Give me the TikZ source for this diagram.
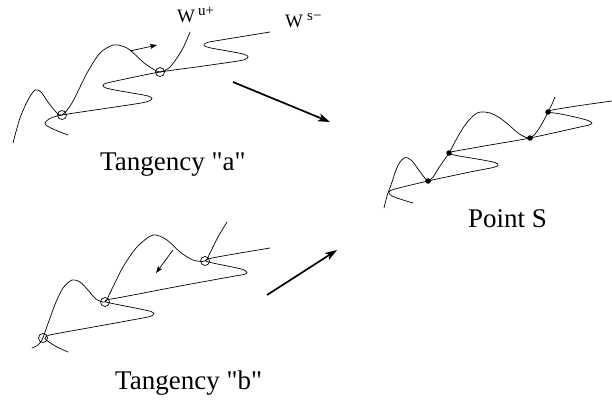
\documentclass[tikz,border=0pt]{standalone}
\usepackage{fontspec}
\setmainfont{Liberation Serif}[Ligatures=TeXOff]
\usetikzlibrary{arrows.meta}
\tikzset{
  curve/.style={line width=0.7bp, line join=round, line cap=round},
  tangcirc/.style={draw, circle, line width=0.7bp, minimum size=9bp, inner sep=0pt},
  pointdot/.style={fill, circle, minimum size=5.5bp, inner sep=0pt},
  bigarrow/.style={line width=1.7bp, -{Stealth[length=12bp,width=8bp,inset=3bp]}},
  smallarrow/.style={line width=0.7bp, -{Stealth[length=7bp,width=5bp,inset=1.5bp]}},
  biglabel/.style={anchor=base west, inner sep=0pt, font=\fontsize{27bp}{30bp}\selectfont},
  wlabel/.style={anchor=base west, inner sep=0pt, font=\fontsize{19bp}{21bp}\selectfont},
  wsup/.style={anchor=base west, inner sep=0pt, font=\fontsize{15bp}{17bp}\selectfont}
}
\begin{document}
\begin{tikzpicture}[x=1bp,y=-1bp]
\useasboundingbox (0,0) rectangle (612,400);

% ---------- Tangency "a" ----------
\draw[curve] plot[smooth,tension=0.5] coordinates {
 (13,143) (20,118) (28,100) (35,90) (41,92) (48,102) (56,112) (62,115)
 (72,103) (87,73) (100,53) (113,45) (122,46) (130,50) (143,62) (153,69)
 (160,72) (170,67) (182,50) (190,32)};
\draw[curve] plot[smooth,tension=0.5] coordinates {
 (68,135) (53,129) (45,124) (49,119) (62,115) (105,108.5) (140,103.2)
 (149,101) (152,98.5) (148,96) (135,93.5) (115,90) (106,88) (103,85.5)
 (107,83) (130,78) (160,72) (200,66.5) (238,61) (246,59) (248,56.5)
 (243,54) (225,50.5) (210,47.8) (204,45.5) (206,43) (215,41) (270,32)};
\node[tangcirc] (a1) at (62,115) {};
\node[tangcirc] (a2) at (160,72) {};
\coordinate (sa1) at (130,51); \coordinate (sa2) at (157,45);
\draw[smallarrow] (sa1) -- (sa2);
\node[wlabel] (wu) at (177,22) {W};
\node[wsup] (wus) at (198,15) {u+};
\node[wlabel] (ws) at (285,27) {W};
\node[wsup] (wss) at (307,20) {s−};
\node[biglabel] (ta) at (100,170) {Tangency "a"};

% ---------- Tangency "b" ----------
\draw[curve] plot[smooth,tension=0.5] coordinates {
 (32,348) (38,345) (42,340) (45,332) (50,318) (56,302) (63,288) (72,280)
 (80,282) (88,290) (96,299) (105,302) (110,293) (123,267) (137,247)
 (153,235) (167,240) (180,252) (193,260) (205,261) (210,253) (218,237) (227,222)};
\draw[curve] plot[smooth,tension=0.5] coordinates {
 (68,352) (57,347) (49,342) (45,338.5) (48,335.5) (60,333) (100,325.8)
 (140,318.5) (150,316.5) (154,314) (151,311.5) (140,309) (120,305)
 (110,303) (105,301.5) (108,299.5) (120,297.5) (180,286) (235,276)
 (244,274.5) (247,272.5) (243,269.5) (230,266.5) (215,263.5) (207,261.5)
 (206,260) (212,258) (240,253) (270,248)};
\node[tangcirc] (b1) at (43,338) {};
\node[tangcirc] (b2) at (105,302) {};
\node[tangcirc] (b3) at (205,261) {};
\coordinate (sb1) at (173,250); \coordinate (sb2) at (156,273);
\draw[smallarrow] (sb1) -- (sb2);
\node[biglabel] (tb) at (115,389) {Tangency "b"};

% ---------- Point S ----------
\draw[curve] plot[smooth,tension=0.5] coordinates {
 (384,208) (387,196) (391,185) (396,170) (400,162) (404,158) (408,158)
 (413,162) (418,169) (424,177) (428,181) (433,177) (440,166) (449,153)
 (456,140) (463,128) (470,119) (477,113) (483,112) (490,113) (500,118)
 (510,126) (518,133) (525,137) (530,138) (535,134) (540,127) (544,120)
 (548,112) (552,104) (555,97)};
\draw[curve] plot[smooth,tension=0.5] coordinates {
 (413,203) (400,199) (391,195.5) (389,192) (395,189) (428,181) (470,172)
 (493,167.5) (498,165) (495,162.5) (480,159.5) (462,156.5) (452,154.5)
 (449,152.5) (453,151.5) (490,145) (530,138) (580,127) (589,125)
 (592,123) (588,120.5) (575,117) (558,113.5) (550,112.5) (549,111)
 (555,109.5) (580,105.5) (612,101)};
\node[pointdot] (s1) at (428,181) {};
\node[pointdot] (s2) at (449,153) {};
\node[pointdot] (s3) at (530,138) {};
\node[pointdot] (s4) at (548,112) {};
\node[biglabel] (ps) at (468,227) {Point S};

% ---------- big arrows ----------
\coordinate (ba1) at (233,82); \coordinate (ba2) at (330,122);
\coordinate (bb1) at (267,295); \coordinate (bb2) at (337,250);
\draw[bigarrow] (ba1) -- (ba2);
\draw[bigarrow] (bb1) -- (bb2);
\end{tikzpicture}
\end{document}
